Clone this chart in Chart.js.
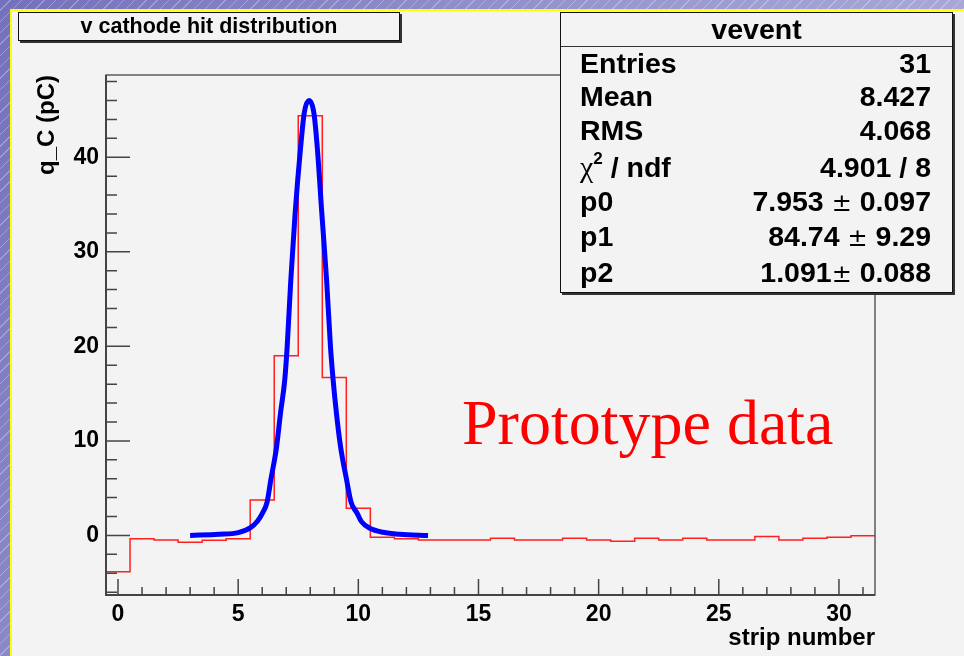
<!DOCTYPE html>
<html><head><meta charset="utf-8">
<script src="https://cdn.jsdelivr.net/npm/chart.js@4.4.0/dist/chart.umd.min.js"></script>
<style>
html,body{margin:0;padding:0;width:964px;height:656px;overflow:hidden;}
#bg{position:absolute;left:0;top:0;width:964px;height:656px;
 background: repeating-linear-gradient(135deg, rgba(255,255,255,0) 0 7px, rgba(255,255,255,0.28) 7px 8px),
             linear-gradient(120deg,#7471bd 0%, #9896cf 45%, #b9b9e1 100%);}
#yl{position:absolute;left:10px;top:9px;width:954px;height:647px;background:#ffff00;}
#pad{position:absolute;left:12px;top:11px;width:952px;height:645px;background:#f3f3f3;}
#wrap{position:absolute;left:0;top:0;width:964px;height:656px;}
.sans{font-family:'Liberation Sans',Arial,Helvetica,sans-serif;font-weight:bold;color:#000;}
#title{position:absolute;left:18px;top:12px;width:380px;height:27px;border:1px solid #111;
 box-shadow:2px 2px 0 #333;background:#f3f3f3;font-size:21.5px;line-height:27px;text-align:center;}
#stats{position:absolute;left:560px;top:12px;width:391px;height:279px;border:1px solid #111;
 box-shadow:2px 2px 0 #333;background:#f3f3f3;}
#stats .hdr{position:absolute;left:0;top:0;width:391px;height:33px;border-bottom:1.5px solid #333;
 font-size:28.5px;line-height:33px;text-align:center;}
#stats .row{position:absolute;left:19px;width:351px;height:28px;font-size:28.5px;line-height:28px;}
#stats .row .l{position:absolute;left:0;top:0;white-space:nowrap;}
#stats .row .r{position:absolute;right:0;top:0;white-space:nowrap;}
.chi{font-family:'Liberation Serif','Times New Roman',serif;font-weight:normal;font-size:30px;}
sup{font-size:17px;vertical-align:0;position:relative;top:-13px;}
.pm{font-family:'DejaVu Sans',sans-serif;font-weight:normal;font-size:24px;}
#proto{position:absolute;left:462px;top:391px;font-family:'Liberation Serif','Times New Roman',serif;
 font-size:64px;line-height:64px;color:#ff0000;white-space:nowrap;}
</style>
</head>
<body>
<div id="bg"></div><div id="yl"></div><div id="pad"></div>
<div id="wrap"><canvas id="c" width="964" height="656"></canvas></div>
<div id="title" class="sans">v cathode hit distribution</div>
<div id="stats" class="sans">
  <div class="hdr">vevent</div>
  <div class="row" style="top:36px"><span class="l">Entries</span><span class="r">31</span></div>
  <div class="row" style="top:69px"><span class="l">Mean</span><span class="r">8.427</span></div>
  <div class="row" style="top:103px"><span class="l">RMS</span><span class="r">4.068</span></div>
  <div class="row" style="top:140px"><span class="l"><span class="chi">χ</span><sup>2</sup> / ndf</span><span class="r">4.901 / 8</span></div>
  <div class="row" style="top:174px"><span class="l">p0</span><span class="r">7.953 <span class="pm">±</span> 0.097</span></div>
  <div class="row" style="top:209px"><span class="l">p1</span><span class="r">84.74 <span class="pm">±</span> 9.29</span></div>
  <div class="row" style="top:245px"><span class="l">p2</span><span class="r">1.091<span class="pm">±</span> 0.088</span></div>
</div>
<div id="proto">Prototype data</div>
<script>
// ---- data ----
const strips = [0,1,2,3,4,5,6,7,8,9,10,11,12,13,14,15,16,17,18,19,20,21,22,23,24,25,26,27,28,29,30,31];
const charge = [-3.83,-0.34,-0.48,-0.72,-0.51,-0.34,3.76,19.0,44.4,16.7,2.87,-0.19,-0.34,-0.48,-0.48,-0.48,
                -0.30,-0.48,-0.48,-0.30,-0.48,-0.61,-0.30,-0.48,-0.30,-0.48,-0.48,-0.12,-0.48,-0.30,-0.19,-0.02];
const fitX = [3.0,4.2,5.0,5.5,5.8,6.0,6.2,6.36,6.6,6.76,6.94,7.04,7.19,7.37,7.6,7.75,7.95,
              8.15,8.29,8.48,8.68,8.84,8.95,9.09,9.26,9.51,9.7,9.95,10.13,10.48,11.03,11.72,12.9];
const fitY = [0.0,0.12,0.3,0.8,1.5,2.3,3.5,5.9,9.4,12.9,16.5,20.0,27.0,34.1,41.1,44.7,46.0,
              44.7,41.1,34.1,27.0,20.0,16.5,12.9,9.4,5.9,3.5,2.35,1.46,0.76,0.33,0.12,0.0];
const xTickLabels = [0,5,10,15,20,25,30];
const yTickLabels = [0,10,20,30,40];
const xTitle = 'strip number';
const yTitle = 'q_C (pC)';

// histogram edges built from bins
const histPts = strips.map((s,i)=>({x:s-0.5,y:charge[i]}));
histPts.push({x:strips[strips.length-1]+0.5,y:charge[charge.length-1]});
const fitPts = fitX.map((x,i)=>({x:x,y:fitY[i]}));

const FONT = "'Liberation Sans', Arial, Helvetica, sans-serif";
const frameTicks = {
  id:'frameTicks',
  afterDatasetsDraw(chart){
    const {ctx, chartArea:a, scales:{x,y}} = chart;
    ctx.save();
    ctx.strokeStyle='#444';
    ctx.lineWidth=1.3;
    ctx.strokeRect(a.left, a.top, a.right-a.left, a.bottom-a.top);
    ctx.lineWidth=2;
    ctx.beginPath();
    ctx.moveTo(a.left,a.top); ctx.lineTo(a.left,a.bottom); ctx.lineTo(a.right,a.bottom);
    ctx.stroke();
    ctx.lineWidth=1.5;
    ctx.beginPath();
    for(let v=-6; v<=48; v+=2){
      const py=y.getPixelForValue(v);
      const len = (v%10===0)?24:11;
      ctx.moveTo(a.left,py); ctx.lineTo(a.left+len,py);
    }
    for(let v=0; v<=31; v++){
      const px=x.getPixelForValue(v);
      const len = (v%5===0)?16:8;
      ctx.moveTo(px,a.bottom); ctx.lineTo(px,a.bottom-len);
    }
    ctx.stroke();
    ctx.restore();
  }
};

new Chart(document.getElementById('c'),{
  type:'line',
  data:{datasets:[
    {data:fitPts, borderColor:'#0000ff', borderWidth:5, pointRadius:0, cubicInterpolationMode:'monotone', fill:false, order:0},
    {data:histPts, borderColor:'#ff2020', borderWidth:1.5, pointRadius:0, stepped:'before', fill:false, order:1}
  ]},
  options:{
    responsive:false, animation:false, events:[],
    layout:{padding:{left:0,top:75,right:89,bottom:0}},
    plugins:{legend:{display:false},tooltip:{enabled:false}},
    scales:{
      x:{type:'linear',min:-0.5,max:31.5,
         afterBuildTicks:s=>{s.ticks=xTickLabels.map(v=>({value:v}));},
         afterFit:s=>{s.height=61;},
         grid:{display:false,drawTicks:false},border:{display:false},
         ticks:{padding:6,color:'#000',font:{family:FONT,size:23,weight:'bold'},maxRotation:0,autoSkip:false},
         title:{display:true,text:xTitle,align:'end',color:'#000',padding:{top:0,bottom:3},font:{family:FONT,size:24,weight:'bold'}}
      },
      y:{type:'linear',min:-6.3,max:48.7,
         afterBuildTicks:s=>{s.ticks=yTickLabels.map(v=>({value:v}));},
         afterFit:s=>{s.width=106;},
         grid:{display:false,drawTicks:false},border:{display:false},
         ticks:{padding:7,color:'#000',font:{family:FONT,size:23,weight:'bold'},autoSkip:false},
         title:{display:true,text:yTitle,align:'end',color:'#000',padding:{top:33,bottom:0},font:{family:FONT,size:24,weight:'bold'}}
      }
    }
  },
  plugins:[frameTicks]
});
</script>
</body></html>
